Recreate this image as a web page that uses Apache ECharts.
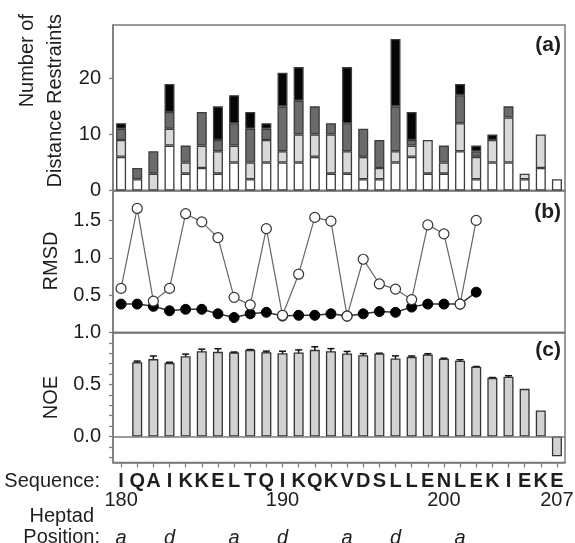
<!DOCTYPE html>
<html>
<head>
<meta charset="utf-8">
<script src="https://cdn.jsdelivr.net/npm/echarts@6/dist/echarts.min.js"></script>
<style>
  html, body { margin: 0; padding: 0; background: #fff; }
  #chart { width: 575px; height: 543px; }
</style>
</head>
<body>
<div id="chart"></div>
<script>
// residues 180..207
const residues = ['180','181','182','183','184','185','186','187','188','189','190','191','192','193',
  '194','195','196','197','198','199','200','201','202','203','204','205','206','207'];
const sequence = ['I','Q','A','I','K','K','E','L','T','Q','I','K','Q','K',
  'V','D','S','L','L','E','N','L','E','K','I','E','K','E'];
const numberLabels = ['180','','','','','','','','','','190','','','','','','','','','','200','','','','','','','207'];
const heptad = ['a','','','d','','','','a','','','d','','','','a','','','d','','','','a','','','','','',''];

// (a) distance restraints, stacked by class
const restrWhite = [6,2,0,8,3,4,3,5,2,5,5,5,6,3, 3,2,2,5,6,3,3,7,2,5,5,2,4,2];
const restrLight = [3,0,3,3,2,4,4,3,3,4,2,5,4,7, 4,4,2,2,2,6,2,5,4,4,8,1,6,0];
const restrDark  = [2,2,4,3,3,6,2,4,6,2,8,6,5,2, 5,5,5,8,1,0,3,5,1,0,2,0,0,0];
const restrBlack = [1,0,0,5,0,0,6,5,3,1,6,6,0,0, 10,0,0,12,5,0,0,2,1,1,0,0,0,0];

// (b) RMSD
const rmsdOpen = [0.59,1.66,0.42,0.59,1.59,1.48,1.27,0.47,0.37,1.39,0.23,0.78,1.54,1.49,
  0.22,0.98,0.65,0.58,0.44,1.44,1.32,0.38,1.50,null,null,null,null,null];
const rmsdFilled = [0.38,0.38,0.35,0.29,0.31,0.31,0.25,0.20,0.25,0.27,0.22,0.23,0.23,0.25,
  0.22,0.25,0.28,0.27,0.34,0.38,0.38,0.38,0.54,null,null,null,null,null];

// (c) heteronuclear NOE and its error
const noe = [null,0.715,0.744,0.708,0.772,0.82,0.814,0.808,0.833,0.811,0.80,0.808,0.833,0.82,
  0.798,0.782,0.798,0.75,0.766,0.788,0.747,0.728,0.67,0.564,0.574,0.458,0.25,-0.19];
const noeErr = [0,0.01,0.03,0.006,0.02,0.02,0.03,0.004,0.003,0.01,0.02,0.025,0.03,0.025,
  0.02,0.015,0.003,0.025,0.008,0.008,0.006,0.01,0.003,0.003,0.01,0,0,0];

const font = "'Liberation Sans', Arial, sans-serif";
const frame = '#7a7a7a';
const ink = '#1e1e1e';

const chart = echarts.init(document.getElementById('chart'));

function seg(arr) {
  return arr.map(v => (v === 0 ? '-' : v));
}

function yAxisFor(idx, min, max, labels, ticks, digits) {
  return {
    type: 'value', gridIndex: idx, min: min, max: max, position: 'left',
    axisLine: { show: true, lineStyle: { color: frame, width: 1.5 } },
    axisTick: { show: true, length: 4, customValues: ticks, lineStyle: { color: frame, width: 1.2 } },
    axisLabel: {
      customValues: labels, margin: 12, color: ink, fontSize: 20, fontFamily: font,
      formatter: v => v.toFixed(digits)
    },
    splitLine: { show: false }
  };
}

function xAxisFor(idx, extra) {
  return Object.assign({
    type: 'category', gridIndex: idx, data: residues, position: 'bottom',
    axisLine: { show: true, onZero: false, lineStyle: { color: frame, width: 1.5 } },
    axisTick: { show: false },
    axisLabel: { show: false }
  }, extra || {});
}

function gridAt(top, height) {
  return { left: 113, top: top, width: 452, height: height, outerBoundsMode: 'none', containLabel: false,
    show: true, borderColor: frame, borderWidth: 1.5 };
}

const stackStyle = (color) => ({ color: color, borderColor: '#3c3c3c', borderWidth: 1.3 });

const option = {
  animation: false,
  grid: [gridAt(25, 165.5), gridAt(190.5, 142), gridAt(332.5, 130)],
  xAxis: [
    xAxisFor(0),
    xAxisFor(1),
    xAxisFor(2, {
      axisTick: { show: true, alignWithLabel: true, length: 5, interval: 0, lineStyle: { color: frame, width: 1.2 } },
      axisLabel: {
        show: true, interval: 0, margin: 9, color: ink, fontSize: 20, fontWeight: 'bold', fontFamily: font,
        formatter: (v, i) => sequence[i]
      }
    }),
    xAxisFor(2, {
      axisLine: { show: false, onZero: false },
      axisLabel: {
        show: true, interval: 0, margin: 28, color: ink, fontSize: 20, fontFamily: font,
        formatter: (v, i) => numberLabels[i]
      }
    }),
    xAxisFor(2, {
      axisLine: { show: false, onZero: false },
      axisLabel: {
        show: true, interval: 0, margin: 66, color: ink, fontSize: 20, fontStyle: 'italic', fontFamily: font,
        formatter: (v, i) => heptad[i]
      }
    })
  ],
  yAxis: [
    yAxisFor(0, 0, 29.5, [0, 10, 20], [0, 10, 20], 0),
    yAxisFor(1, 0, 1.9, [0.5, 1.0, 1.5], [0.5, 1.0, 1.5], 1),
    yAxisFor(2, -0.25, 1.0, [0, 0.5, 1.0],
      [-0.2,-0.1,0,0.1,0.2,0.3,0.4,0.5,0.6,0.7,0.8,0.9,1.0], 1)
  ],
  graphic: [
    { type: 'text', x: 13, y: 14, rotation: Math.PI / 2,
      style: { text: 'Number of\nDistance Restraints', font: '20px ' + font, fill: ink,
        textAlign: 'right', textVerticalAlign: 'top', lineHeight: 28 } },
    { type: 'text', x: 51, y: 261, rotation: Math.PI / 2,
      style: { text: 'RMSD', font: '20px ' + font, fill: ink, textAlign: 'center', textVerticalAlign: 'middle' } },
    { type: 'text', x: 51, y: 397.5, rotation: Math.PI / 2,
      style: { text: 'NOE', font: '20px ' + font, fill: ink, textAlign: 'center', textVerticalAlign: 'middle' } },
    { type: 'text', x: 561, y: 45,
      style: { text: '(a)', font: 'bold 21px ' + font, fill: ink, textAlign: 'right', textVerticalAlign: 'middle' } },
    { type: 'text', x: 561, y: 212,
      style: { text: '(b)', font: 'bold 21px ' + font, fill: ink, textAlign: 'right', textVerticalAlign: 'middle' } },
    { type: 'text', x: 561, y: 350,
      style: { text: '(c)', font: 'bold 21px ' + font, fill: ink, textAlign: 'right', textVerticalAlign: 'middle' } },
    { type: 'text', x: 100, y: 481,
      style: { text: 'Sequence:', font: '20px ' + font, fill: ink, textAlign: 'right', textVerticalAlign: 'middle' } },
    { type: 'text', x: 94, y: 516,
      style: { text: 'Heptad', font: '20px ' + font, fill: ink, textAlign: 'right', textVerticalAlign: 'middle' } },
    { type: 'text', x: 100, y: 537,
      style: { text: 'Position:', font: '20px ' + font, fill: ink, textAlign: 'right', textVerticalAlign: 'middle' } }
  ],
  series: [
    // (a)
    { type: 'bar', stack: 'r', barWidth: 10, xAxisIndex: 0, yAxisIndex: 0, data: seg(restrWhite), itemStyle: stackStyle('#ffffff') },
    { type: 'bar', stack: 'r', barWidth: 10, xAxisIndex: 0, yAxisIndex: 0, data: seg(restrLight), itemStyle: stackStyle('#d9d9d9') },
    { type: 'bar', stack: 'r', barWidth: 10, xAxisIndex: 0, yAxisIndex: 0, data: seg(restrDark), itemStyle: stackStyle('#6b6b6b') },
    { type: 'bar', stack: 'r', barWidth: 10, xAxisIndex: 0, yAxisIndex: 0, data: seg(restrBlack), itemStyle: stackStyle('#050505') },
    // (b)
    { type: 'line', xAxisIndex: 1, yAxisIndex: 1, data: rmsdFilled, symbol: 'circle', symbolSize: 10,
      lineStyle: { color: '#333', width: 1.5 }, itemStyle: { color: '#000', borderColor: '#000', borderWidth: 1 } },
    { type: 'line', xAxisIndex: 1, yAxisIndex: 1, data: rmsdOpen, symbol: 'circle', symbolSize: 10,
      lineStyle: { color: '#666', width: 1.2 }, itemStyle: { color: '#fff', borderColor: '#333', borderWidth: 1.2 } },
    // (c)
    { type: 'bar', xAxisIndex: 2, yAxisIndex: 2, barWidth: 10, data: noe,
      itemStyle: { color: '#d2d2d2', borderColor: '#333', borderWidth: 1.3 },
      markLine: { silent: true, symbol: 'none', label: { show: false },
        lineStyle: { color: frame, width: 1.5, type: 'solid' }, data: [{ yAxis: 0 }] } },
    { type: 'custom', xAxisIndex: 2, yAxisIndex: 2,
      data: noe.map((v, i) => [i, v, noeErr[i]]).filter(d => d[1] !== null && d[2] > 0),
      renderItem: function (params, api) {
        const i = api.value(0), v = api.value(1), e = api.value(2);
        const hi = api.coord([i, v + e]);
        const lo = api.coord([i, v - e]);
        const w = 3.5;
        const st = { stroke: '#111', lineWidth: 1.5 };
        return { type: 'group', children: [
          { type: 'line', shape: { x1: hi[0], y1: hi[1], x2: lo[0], y2: lo[1] }, style: st },
          { type: 'line', shape: { x1: hi[0] - w, y1: hi[1], x2: hi[0] + w, y2: hi[1] }, style: st },
          { type: 'line', shape: { x1: lo[0] - w, y1: lo[1], x2: lo[0] + w, y2: lo[1] }, style: st }
        ] };
      }
    }
  ]
};

chart.setOption(option);
</script>
</body>
</html>
